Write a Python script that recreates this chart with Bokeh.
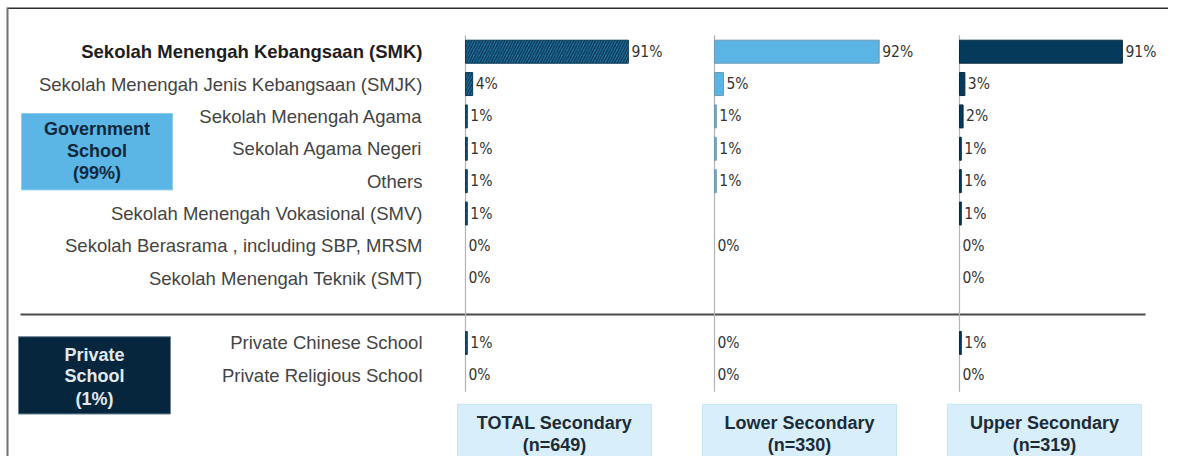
from bokeh.plotting import figure
from bokeh.models import Range1d, ColumnDataSource
from bokeh.core.properties import value
from bokeh.embed import file_html
from bokeh.resources import INLINE

# ---------------- data ----------------
gov_categories = [
    "Sekolah Menengah Kebangsaan (SMK)",
    "Sekolah Menengah Jenis Kebangsaan (SMJK)",
    "Sekolah Menengah Agama",
    "Sekolah Agama Negeri",
    "Others",
    "Sekolah Menengah Vokasional (SMV)",
    "Sekolah Berasrama , including SBP, MRSM",
    "Sekolah Menengah Teknik (SMT)",
]
private_categories = ["Private Chinese School", "Private Religious School"]

total_secondary = [91, 4, 1, 1, 1, 1, 0, 0, 1, 0]
lower_secondary = [92, 5, 1, 1, 1, None, 0, None, 0, 0]
upper_secondary = [91, 3, 2, 1, 1, 1, 0, 0, 1, 0]

panel_titles = ["TOTAL Secondary", "Lower Secondary", "Upper Secondary"]
panel_ns = ["(n=649)", "(n=330)", "(n=319)"]
group_labels = [["Government", "School", "(99%)"], ["Private", "School", "(1%)"]]

# ---------------- layout (pixels, figure-local) ----------------
W, H = 1168, 456
PX_PER_PCT = 1.79
AXIS_PX = [465, 714, 959]
ROW0, ROW_STEP = 51.2, 32.36
BAR_H = 23 / ROW_STEP
LABEL_RIGHT = 422
LABEL_FONT = value("Liberation Sans")
NUM_FONT = value("DejaVu Sans Condensed")

p = figure(width=W, height=H, output_backend="svg", toolbar_location=None,
           x_range=Range1d(0, W), y_range=Range1d(H, 0),
           x_axis_type=None, y_axis_type=None, min_border=0,
           outline_line_color=None, background_fill_color="white")
p.xgrid.visible = False
p.ygrid.visible = False

p.extra_y_ranges = {"rows": Range1d((H - ROW0) / ROW_STEP, -ROW0 / ROW_STEP)}
names = ["total", "lower", "upper"]
p.extra_x_ranges = {n: Range1d(-ax / PX_PER_PCT, (W - ax) / PX_PER_PCT) for n, ax in zip(names, AXIS_PX)}

all_categories = gov_categories + private_categories
row_idx = list(range(len(gov_categories))) + [len(gov_categories) + 1 + j for j in range(len(private_categories))]

# frame (top & left)
p.segment(x0=[7, 7], y0=[7.7, 7], x1=[W, 7], y1=[7.7, H],
          line_color=["#2b2b2b", "#707070"], line_width=[1.5, 2])

# separator between government and private
p.segment(x0=[20], y0=[314], x1=[1145], y1=[314], line_color="#4a4a4a", line_width=2.2)

# category labels
p.text(x=[LABEL_RIGHT], y=[row_idx[0]], text=[all_categories[0]], y_range_name="rows",
       text_align="right", text_baseline="middle", text_font=LABEL_FONT,
       text_font_size="18.5px", text_font_style="bold", text_color="#1e1e1e")
p.text(x=[LABEL_RIGHT] * (len(all_categories) - 1), y=row_idx[1:], text=all_categories[1:],
       y_range_name="rows", text_align="right", text_baseline="middle",
       text_font=LABEL_FONT, text_font_size="18.5px", text_color="#444444")

# group boxes
p.quad(left=[21], right=[172], top=[113], bottom=[189.4], fill_color="#5bb6e6", line_color="#8fcdee", line_width=1)
p.quad(left=[18], right=[170], top=[336.2], bottom=[413.5], fill_color="#06263d", line_color="#6b8294", line_width=1)
p.text(x=[96.5] * 3, y=[128.5, 150.7, 172.9], text=group_labels[0], text_align="center", text_baseline="middle",
       text_font=LABEL_FONT, text_font_size="18px", text_font_style="bold", text_color="#10283a")
p.text(x=[94] * 3, y=[354.6, 375.8, 398], text=group_labels[1], text_align="center", text_baseline="middle",
       text_font=LABEL_FONT, text_font_size="18px", text_font_style="bold", text_color="#e2e9ee")

# panels
series = [total_secondary, lower_secondary, upper_secondary]
styles = [
    dict(fill_color="#2379aa", line_color="#0d3b58", hatch_pattern="/", hatch_color="#0a3350",
         hatch_scale=5.5, hatch_weight=1.4),
    dict(fill_color="#5ab5e4", line_color="#6d98b3"),
    dict(fill_color="#053a5b", line_color="#0a2a40"),
]
BOX_LEFT = [457, 702, 947]
BOX_W = 194
for k, (name, vals) in enumerate(zip(names, series)):
    # axis line
    p.segment(x0=[0], x1=[0], y0=[34.8], y1=[391.3], x_range_name=name, line_color="#b3b3b3", line_width=1.2)
    ys = [r for r, v in zip(row_idx, vals) if v is not None]
    vs = [v for v in vals if v is not None]
    src = ColumnDataSource(dict(y=ys, v=vs, lab=[f"{v}%" for v in vs]))
    bar_src = ColumnDataSource(dict(y=[y for y, v in zip(ys, vs) if v > 0],
                                    v=[v for v in vs if v > 0],
                                    zero=[0 for v in vs if v > 0]))
    p.hbar(y="y", left="zero", right="v", height=BAR_H, source=bar_src,
           x_range_name=name, y_range_name="rows", line_width=1, **styles[k])
    p.text(x="v", y="y", text="lab", source=src, x_range_name=name, y_range_name="rows",
           x_offset=3, text_align="left", text_baseline="middle",
           text_font=NUM_FONT, text_font_size="15.5px", text_color="#333333")
    # bottom caption box
    p.quad(left=[BOX_LEFT[k]], right=[BOX_LEFT[k] + BOX_W], top=[403.8], bottom=[H + 5],
           fill_color="#d8effb", line_color="#c5e4f4", line_width=1)
    cx = BOX_LEFT[k] + BOX_W / 2
    p.text(x=[cx, cx], y=[422.5, 444.5], text=[panel_titles[k], panel_ns[k]], text_align="center",
           text_baseline="middle", text_font=LABEL_FONT, text_font_size="18px",
           text_font_style="bold", text_color="#1d2b38")

open("out.html", "w").write(file_html(p, INLINE))
